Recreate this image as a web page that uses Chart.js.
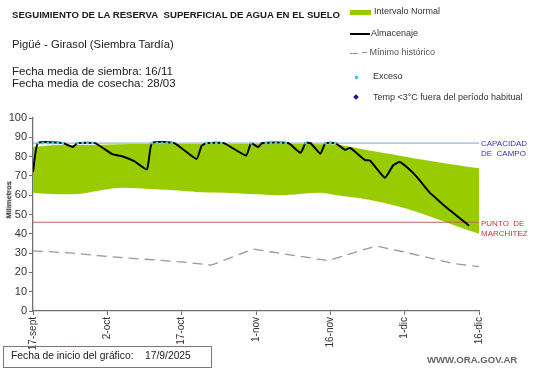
<!DOCTYPE html>
<html>
<head>
<meta charset="utf-8">
<script src="https://cdn.jsdelivr.net/npm/chart.js@4.4.1/dist/chart.umd.min.js"></script>
<style>
  body{margin:0;background:#fff;font-family:"Liberation Sans",Arial,sans-serif;}
  #wrap{position:relative;width:541px;height:368px;overflow:hidden;}
  #Grafica{position:absolute;left:0;top:0;}
  .t{position:absolute;white-space:nowrap;color:#1a1a1a;line-height:1;}
  .leg{position:absolute;font-size:9px;color:#333;white-space:nowrap;line-height:1;}
</style>
</head>
<body>
<div id="wrap">
  <canvas id="Grafica" width="541" height="368"></canvas>

  <div class="t" style="left:12px;top:10px;font-size:9.6px;font-weight:bold;">SEGUIMIENTO DE LA RESERVA&nbsp; SUPERFICIAL DE AGUA EN EL SUELO</div>
  <div class="t" style="left:12px;top:39px;font-size:11.3px;color:#222;">Pigüé - Girasol (Siembra Tardía)</div>
  <div class="t" style="left:12px;top:66px;font-size:11.5px;color:#222;">Fecha media de siembra: 16/11</div>
  <div class="t" style="left:12px;top:78px;font-size:11.5px;color:#222;">Fecha media de cosecha: 28/03</div>

  <div style="position:absolute;left:350px;top:10px;width:21px;height:5px;background:#99cc00;"></div>
  <div class="leg" style="left:374px;top:7px;">Intervalo Normal</div>
  <div style="position:absolute;left:350px;top:33px;width:20px;height:2px;background:#000;"></div>
  <div class="leg" style="left:371px;top:29px;">Almacenaje</div>
  <div style="position:absolute;left:350px;top:53px;width:8px;height:1px;background:#999;"></div>
  <div class="leg" style="left:362px;top:48px;color:#555;">– Mínimo histórico</div>
  <div style="position:absolute;left:355px;top:76px;width:3px;height:3px;background:#33ccee;"></div>
  <div class="leg" style="left:373px;top:72px;">Exceso</div>
  <div style="position:absolute;left:354px;top:95px;width:4px;height:4px;background:#1a1a8c;transform:rotate(45deg);"></div>
  <div class="leg" style="left:373px;top:93px;">Temp &lt;3°C fuera del período habitual</div>

  <div class="t" style="left:-13px;top:196px;font-size:7.5px;font-weight:bold;color:#222;transform:rotate(-90deg);width:44px;text-align:center;">Milímetros</div>

  <div class="t" style="left:481px;top:139px;font-size:8px;color:#3333aa;line-height:10px;">CAPACIDAD<br>DE&nbsp; CAMPO</div>
  <div class="t" style="left:481px;top:219px;font-size:8px;color:#cc3333;line-height:10px;">PUNTO&nbsp; DE<br>MARCHITEZ</div>

  <div style="position:absolute;left:3px;top:346px;width:209px;height:22px;border:1px solid #8c7070;box-sizing:border-box;"></div>
  <div class="t" style="left:11px;top:351px;font-size:10.3px;color:#222;">Fecha de inicio del gráfico:</div>
  <div class="t" style="left:145px;top:351px;font-size:10.3px;color:#222;">17/9/2025</div>
  <div class="t" style="left:427px;top:355px;font-size:9.6px;font-weight:bold;color:#666;">WWW.ORA.GOV.AR</div>
</div>

<script>
// ejes
const fechaLabels = ['17-sept','2-oct','17-oct','1-nov','16-nov','1-dic','16-dic'];
const capacidadCampo = 87;
const puntoMarchitez = 46;

// intervalo normal (dias desde 17-sept)
const bandDias  = [0, 5, 10, 14, 18, 24, 30, 34, 40, 47, 51, 58, 62, 67, 74, 79, 84, 90];
const bandMax   = [85, 86, 86, 86.2, 86.4, 86.5, 86.5, 86.5, 86.5, 86.5, 86.5, 86.4, 86, 83.5, 80.5, 78.2, 76.2, 74];
const bandMin   = [61.3, 60.5, 60.9, 62.7, 63.9, 63.2, 62.3, 61.5, 61.1, 60.2, 60.1, 61.3, 59.7, 58, 54, 50, 45.4, 40];

// almacenaje
const almDias  = [0, 1, 6, 8, 9, 12.5, 16, 18, 20.5, 23, 24, 28.5, 33, 34, 35, 38.5, 43, 44, 45.4, 46.3, 51.5, 54, 55, 56, 58, 59, 61, 63, 64, 67, 68, 71, 72.7, 74, 75.7, 77.4, 80, 81, 83.5, 88];
const almValor = [72, 87, 87, 85, 87, 87, 81.3, 80.2, 77.5, 73.4, 87, 87, 78.8, 85.5, 87, 87, 80.6, 87, 85, 87, 87, 82, 87, 87, 81.5, 87, 87, 83.5, 84.5, 78.2, 78, 69, 75.5, 77.2, 74, 69.6, 61.5, 59.2, 53.5, 44.2];

// minimo historico
const minDias  = [0, 8, 15.5, 29.7, 36, 44.4, 47.8, 59.6, 69.2, 74.7, 80, 85, 90];
const minValor = [31.2, 30, 28.1, 25.5, 23.8, 32.1, 30.7, 26.1, 33.7, 30.7, 27.5, 24.5, 23];

// exceso
const excesoDias  = [1, 2, 3, 4, 5, 6, 9, 10, 11, 12, 24, 25, 26, 27, 28, 35, 36, 37, 38, 44, 47, 48, 49, 50, 51, 55, 59, 60, 61];
const excesoValor = [87, 87, 87, 87, 87, 87, 87, 87, 87, 87, 87, 87, 87, 87, 87, 87, 87, 87, 87, 87, 87, 87, 87, 87, 87, 87, 87, 87, 87];

// temp <3C fuera del periodo habitual (sin eventos)
const tempDias  = [];
const tempValor = [];

function toXY(xs, ys){
    let out = [];
    for (let i=0; i<xs.length; i++){ out.push({'x':xs[i], 'y':ys[i]}); }
    return out;
}

function getChart(){
    return document.getElementById('Grafica');
}

const config = {
    'type':'line',
    'data': {
        'datasets': [
            {'label':'Intervalo Normal', 'data':toXY(bandDias,bandMax), 'borderWidth':0, 'pointRadius':0,
             'backgroundColor':'#99cc00', 'fill':'+1', 'tension':0.35, 'order':6},
            {'label':'min', 'data':toXY(bandDias,bandMin), 'borderWidth':0, 'pointRadius':0,
             'backgroundColor':'#99cc00', 'fill':false, 'tension':0.35, 'order':6},
            {'label':'Mínimo histórico', 'data':toXY(minDias,minValor), 'borderColor':'#999999', 'borderWidth':1.3,
             'borderDash':[10,6], 'pointRadius':0, 'fill':false, 'order':4},
            {'label':'cc', 'data':toXY([0,90],[capacidadCampo,capacidadCampo]), 'borderColor':'#9db3d6', 'borderWidth':1.3,
             'pointRadius':0, 'fill':false, 'order':3},
            {'label':'pmp', 'data':toXY([0,90],[puntoMarchitez,puntoMarchitez]), 'borderColor':'#c0605a', 'borderWidth':1,
             'pointRadius':0, 'fill':false, 'order':3},
            {'label':'Almacenaje', 'data':toXY(almDias,almValor), 'borderColor':'#000000', 'borderWidth':2,
             'pointRadius':0, 'fill':false, 'tension':0.15, 'order':2},
            {'label':'Exceso', 'data':toXY(excesoDias,excesoValor), 'showLine':false, 'pointStyle':'rect',
             'pointRadius':1.8, 'pointBorderWidth':0, 'pointBackgroundColor':'#40d0f0', 'order':1},
            {'label':'Temp', 'data':toXY(tempDias,tempValor), 'showLine':false, 'pointStyle':'rectRot',
             'pointRadius':3, 'pointBackgroundColor':'#1a1a8c', 'order':0}
        ]
    },
    'options': {
        'responsive':false,
        'animation':false,
        'layout':{'padding':{'top':118,'right':62,'left':0,'bottom':0}},
        'plugins':{'legend':{'display':false}, 'tooltip':{'enabled':false}},
        'scales': {
            'x': {
                'type':'linear', 'min':0, 'max':90,
                'afterFit': function(s){ s.height = 57; },
                'grid':{'drawOnChartArea':false, 'tickLength':4, 'color':'#707070'},
                'border':{'color':'#707070', 'width':1.3},
                'ticks':{'stepSize':15, 'minRotation':90, 'maxRotation':90, 'padding':2,
                         'color':'#333', 'font':{'family':'Liberation Sans', 'size':10},
                         'callback': function(v){ return fechaLabels[Math.round(v/15)]; }}
            },
            'y': {
                'min':0, 'max':100,
                'afterFit': function(s){ s.width = 33; },
                'grid':{'drawOnChartArea':false, 'tickLength':4, 'color':'#707070'},
                'border':{'color':'#707070', 'width':1.3},
                'ticks':{'stepSize':10, 'padding':2, 'color':'#333',
                         'font':{'family':'Liberation Sans', 'size':11}}
            }
        }
    }
};

new Chart(getChart().getContext('2d'), config);
</script>
</body>
</html>
